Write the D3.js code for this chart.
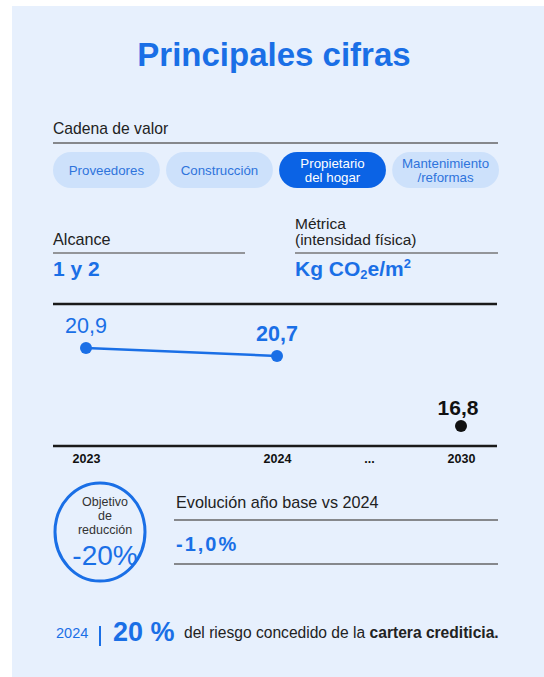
<!DOCTYPE html>
<html><head><meta charset="utf-8">
<script src="https://cdn.jsdelivr.net/npm/d3@7"></script>
<style>html,body{margin:0;padding:0;background:#fff;}svg{display:block;font-family:"Liberation Sans",Arial,sans-serif;}</style>
</head><body>
<script>
// ---- data ----
const title = "Principales cifras";
const chainSteps = ["Proveedores", "Construcción", "Propietario\ndel hogar", "Mantenimiento\n/reformas"];
const activeStep = "Propietario\ndel hogar";
const years = [2023, 2024, 2030];
const values = [20.9, 20.7, 16.8];
const valueLabels = ["20,9", "20,7", "16,8"];
const tickYears = [2023, 2024, 2027, 2030];
const tickLabels = ["2023", "2024", "...", "2030"];
const scopeLabel = "Alcance", scopeValue = "1 y 2";
const reductionTarget = "-20%";
const evolutionLabel = "Evolución año base vs 2024", evolutionValue = "-1,0%";
const portfolioYear = "2024", portfolioShare = "20 %";

const W = 544, H = 677;
const blue = "#1a6fe6", dark = "#222", bg = "#e7f0fd";
const svg = d3.select("body").append("svg").attr("width", W).attr("height", H);
svg.append("rect").attr("x", 12).attr("y", 6).attr("width", W - 12).attr("height", H - 6).attr("fill", bg);

const L = 53, R = 498;
svg.append("text").attr("x", 274).attr("y", 66).attr("text-anchor", "middle")
  .attr("font-size", 33).attr("font-weight", "bold").attr("fill", blue).text(title);

// value chain
svg.append("text").attr("x", L).attr("y", 134).attr("font-size", 15.7).attr("fill", dark).text("Cadena de valor");
svg.append("line").attr("x1", L).attr("x2", R).attr("y1", 143).attr("y2", 143).attr("stroke", "#666").attr("stroke-width", 1.5);
const band = d3.scaleBand().domain(chainSteps).range([L, R + 1]).paddingInner(0.055);
const pills = svg.selectAll("g.pill").data(chainSteps).join("g").attr("class", "pill");
pills.append("rect").attr("x", d => band(d)).attr("y", 152).attr("width", band.bandwidth()).attr("height", 36)
  .attr("rx", 18).attr("fill", d => d === activeStep ? "#0b63e5" : "#cde1fb");
pills.each(function (d) {
  const lines = d.split("\n");
  const t = d3.select(this).append("text").attr("text-anchor", "middle").attr("font-size", 13.3)
    .attr("fill", d === activeStep ? "#fff" : "#2f74db");
  lines.forEach((ln, i) => {
    t.append("tspan").attr("x", band(d) + band.bandwidth() / 2)
      .attr("y", 175 + (i - (lines.length - 1) / 2) * 14.5).text(ln);
  });
});

// scope / metric
svg.append("text").attr("x", L).attr("y", 245).attr("font-size", 16.2).attr("fill", dark).text(scopeLabel);
svg.append("line").attr("x1", L).attr("x2", 245).attr("y1", 253).attr("y2", 253).attr("stroke", "#777").attr("stroke-width", 1.5);
svg.append("text").attr("x", L).attr("y", 276).attr("font-size", 21).attr("font-weight", "bold").attr("fill", blue).text(scopeValue);
const mx = 295;
svg.append("text").attr("x", mx).attr("y", 229).attr("font-size", 15.5).attr("fill", dark).text("Métrica");
svg.append("text").attr("x", mx).attr("y", 245).attr("font-size", 15.5).attr("fill", dark).text("(intensidad física)");
svg.append("line").attr("x1", mx).attr("x2", R).attr("y1", 253).attr("y2", 253).attr("stroke", "#777").attr("stroke-width", 1.5);
const met = svg.append("text").attr("x", mx).attr("y", 276).attr("font-size", 21).attr("font-weight", "bold").attr("fill", blue);
met.append("tspan").text("Kg CO");
met.append("tspan").attr("font-size", 13).attr("dy", 3).text("2");
met.append("tspan").attr("dy", -3).text("e/m");
met.append("tspan").attr("font-size", 13).attr("dy", -8).text("2");

// chart
const x = d3.scaleLinear().domain([2023, 2024, 2030]).range([L + 33, L + 224, R - 37]);
const y = d3.scaleLinear().domain([16, 20, 21]).range([436.5, 384, 344]);
svg.append("line").attr("x1", L).attr("x2", R - 1).attr("y1", 304).attr("y2", 304).attr("stroke", "#1a1a1a").attr("stroke-width", 2.5);
svg.append("line").attr("x1", L).attr("x2", R - 1).attr("y1", 446).attr("y2", 446).attr("stroke", "#1a1a1a").attr("stroke-width", 2.5);
const actual = years.map((yr, i) => ({ yr, v: values[i], lab: valueLabels[i] })).filter(d => d.yr <= 2024);
const target = years.map((yr, i) => ({ yr, v: values[i], lab: valueLabels[i] })).filter(d => d.yr > 2024);
svg.append("path").datum(actual).attr("fill", "none").attr("stroke", blue).attr("stroke-width", 2.5)
  .attr("d", d3.line().x(d => x(d.yr)).y(d => y(d.v)));
svg.selectAll("circle.a").data(actual).join("circle").attr("class", "a")
  .attr("cx", d => x(d.yr)).attr("cy", d => y(d.v)).attr("r", 6).attr("fill", blue);
svg.selectAll("text.a").data(actual).join("text").attr("class", "a")
  .attr("x", (d, i) => x(d.yr) + (i === 0 ? 0 : 0)).attr("y", d => y(d.v) - 15).attr("text-anchor", "middle")
  .attr("font-size", 21.5).attr("font-weight", (d, i) => i === 0 ? "normal" : "bold").attr("fill", blue).text(d => d.lab);
svg.selectAll("circle.t").data(target).join("circle").attr("class", "t")
  .attr("cx", d => x(d.yr)).attr("cy", d => y(d.v)).attr("r", 6).attr("fill", "#111");
svg.selectAll("text.t").data(target).join("text").attr("class", "t")
  .attr("x", d => x(d.yr) - 3).attr("y", d => y(d.v) - 11).attr("text-anchor", "middle")
  .attr("font-size", 21).attr("font-weight", "bold").attr("fill", "#111").text(d => d.lab);
const axis = d3.axisBottom(x).tickValues(tickYears).tickFormat((d, i) => tickLabels[i]).tickSize(0).tickPadding(7);
const ag = svg.append("g").attr("transform", "translate(0,447)").call(axis);
ag.select(".domain").remove();
ag.selectAll("text").attr("font-size", 12.5).attr("font-weight", "bold").attr("fill", "#111")
  .attr("font-family", "Liberation Sans, Arial, sans-serif");

// reduction circle
const cx = 100, cy = 532, tx = 105;
svg.append("ellipse").attr("cx", cx).attr("cy", cy).attr("rx", 45).attr("ry", 49).attr("fill", "none").attr("stroke", blue).attr("stroke-width", 3);
[["Objetivo", 506], ["de", 520], ["reducción", 534]].forEach(([t, yy]) =>
  svg.append("text").attr("x", tx).attr("y", yy).attr("text-anchor", "middle").attr("font-size", 12.5).attr("fill", "#333").text(t));
svg.append("text").attr("x", tx).attr("y", 565).attr("text-anchor", "middle").attr("font-size", 28).attr("font-weight", 500).attr("fill", blue).text(reductionTarget);

svg.append("text").attr("x", 176).attr("y", 508).attr("font-size", 16.2).attr("fill", dark).text(evolutionLabel);
svg.append("line").attr("x1", 174).attr("x2", R).attr("y1", 520).attr("y2", 520).attr("stroke", "#666").attr("stroke-width", 1.3);
svg.append("text").attr("x", 176).attr("y", 551).attr("font-size", 20).attr("font-weight", "bold").attr("letter-spacing", 2).attr("fill", blue).text(evolutionValue);
svg.append("line").attr("x1", 174).attr("x2", R).attr("y1", 564).attr("y2", 564).attr("stroke", "#666").attr("stroke-width", 1.3);

// footer
svg.append("text").attr("x", 56).attr("y", 638).attr("font-size", 14.5).attr("fill", blue).text(portfolioYear);
svg.append("line").attr("x1", 100).attr("x2", 100).attr("y1", 626).attr("y2", 646).attr("stroke", blue).attr("stroke-width", 2);
svg.append("text").attr("x", 113).attr("y", 641).attr("font-size", 27).attr("font-weight", "bold").attr("fill", blue).text(portfolioShare);
const ft = svg.append("text").attr("x", 184).attr("y", 638).attr("font-size", 15.6).attr("fill", dark);
ft.append("tspan").text("del riesgo concedido de la ");
ft.append("tspan").attr("font-weight", "bold").text("cartera crediticia.");
</script>
</body></html>
